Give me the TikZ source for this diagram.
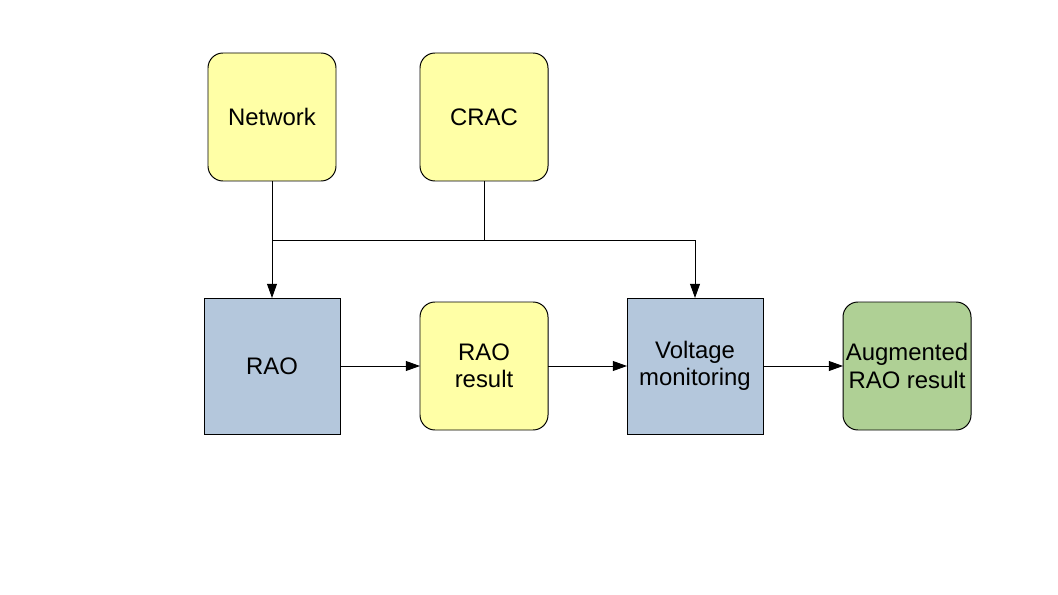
\documentclass[tikz,border=0pt]{standalone}
\usepackage{fontspec}
\setmainfont{Liberation Sans}
\usetikzlibrary{arrows.meta, positioning}
\definecolor{boxyellow}{HTML}{FFFFA6}
\definecolor{boxblue}{HTML}{B4C7DC}
\definecolor{boxgreen}{HTML}{AFD095}

\begin{document}
\begin{tikzpicture}[
  node distance=2cm,
  every node/.style={font=\fontsize{17}{19.5}\selectfont},
  softbox/.style={rectangle, rounded corners=0.375cm, draw, line width=0.7pt, fill=boxyellow,
                  minimum width=3.2cm, minimum height=3.2cm, align=center, inner sep=0pt, outer sep=0pt},
  procbox/.style={rectangle, draw, line width=0.7pt, fill=boxblue,
                  minimum size=3.4cm, align=center, inner sep=0pt, outer sep=0pt},
  arrow/.style={-{Triangle[length=10pt, width=7pt]}, line width=0.7pt},
]
\useasboundingbox (0,0) rectangle (26.45,-14.875);

% Bottom row
\node[procbox] (rao) at (6.8,-9.15) {RAO};
\node[softbox, right=2cm of rao] (raores) {RAO\\result};
\node[procbox, right=1.975cm of raores] (volt) {Voltage\\monitoring};
\node[softbox, fill=boxgreen, right=2cm of volt] (augres) {Augmented\\RAO result};

% Inputs
\node[softbox, above=2.925cm of rao] (net) {Network};
\node[softbox, right=2.1cm of net] (crac) {CRAC};

% Arrows
\draw[arrow] (net) -- (rao);
\draw[arrow] (crac.south) -- ++(0,-1.475) coordinate (jn) -| (volt.north);
\draw[line width=0.7pt] (net.south |- jn) -- (jn);
\draw[arrow] (rao) -- (raores);
\draw[arrow] (raores) -- (volt);
\draw[arrow] (volt) -- (augres);

\end{tikzpicture}
\end{document}
